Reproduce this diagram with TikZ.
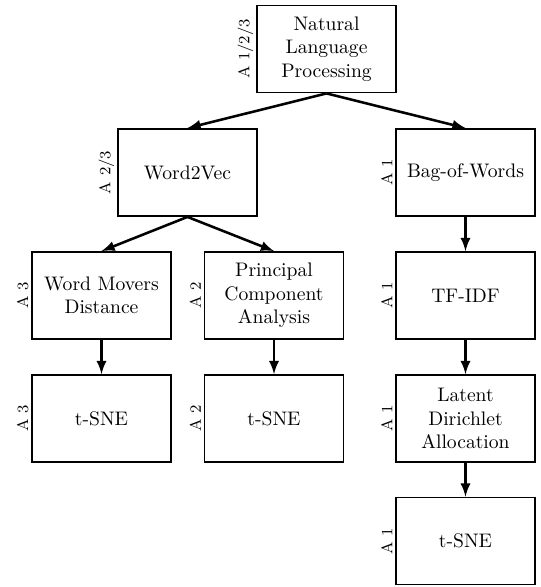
\documentclass[tikz,border=0pt]{standalone}
\usepackage{amsmath,amssymb}
\usepackage{tikz}
\tikzset{
  stage/.style={shape=rectangle,draw=black,line width=0.9pt,fill=white,align=center,
    minimum width=70.9pt,minimum height=44.4pt,inner sep=1pt},
  alabel/.style={rotate=90,anchor=south,font=\footnotesize,inner sep=1.2pt},
  flow/.style={-latex,line width=1.3pt}
}
\newcommand{\stagenode}[5]{\node[stage,label={[alabel]west:#4}] (#1) at ( #2 , #3 ) {#5};}

\begin{document}
\begin{tikzpicture}[x=0.51pt,y=-0.51pt]
        \useasboundingbox (0,0) rectangle (540,587);
        %nodes
        \stagenode{nlp}{326.5}{49}{A 1/2/3}{Natural\\Language\\Processing}
        \stagenode{wvec}{187.5}{172.5}{A 2/3}{Word2Vec}
        \stagenode{bow}{465.5}{172.5}{A 1}{Bag-of-Words}
        \stagenode{wmd}{101.5}{295.5}{A 3}{Word Movers\\Distance}
        \stagenode{pca}{274}{295.5}{A 2}{Principal\\Component\\Analysis}
        \stagenode{tfidf}{465.5}{295.5}{A 1}{TF-IDF}
        \stagenode{tsnea}{101.5}{418.5}{A 3}{t-SNE}
        \stagenode{tsneb}{274}{418.5}{A 2}{t-SNE}
        \stagenode{lda}{465.5}{418.5}{A 1}{Latent\\Dirichlet\\Allocation}
        \stagenode{tsnec}{465.5}{541}{A 1}{t-SNE}
        %edges
        \draw[flow] (nlp.south) -- (wvec.north);
        \draw[flow] (nlp.south) -- (bow.north);
        \draw[flow] (wvec.south) -- (wmd.north);
        \draw[flow] (wvec.south) -- (pca.north);
        \draw[flow] (wmd.south) -- (tsnea.north);
        \draw[flow] (pca.south) -- (tsneb.north);
        \draw[flow] (bow.south) -- (tfidf.north);
        \draw[flow] (tfidf.south) -- (lda.north);
        \draw[flow] (lda.south) -- (tsnec.north);
\end{tikzpicture}
\end{document}
